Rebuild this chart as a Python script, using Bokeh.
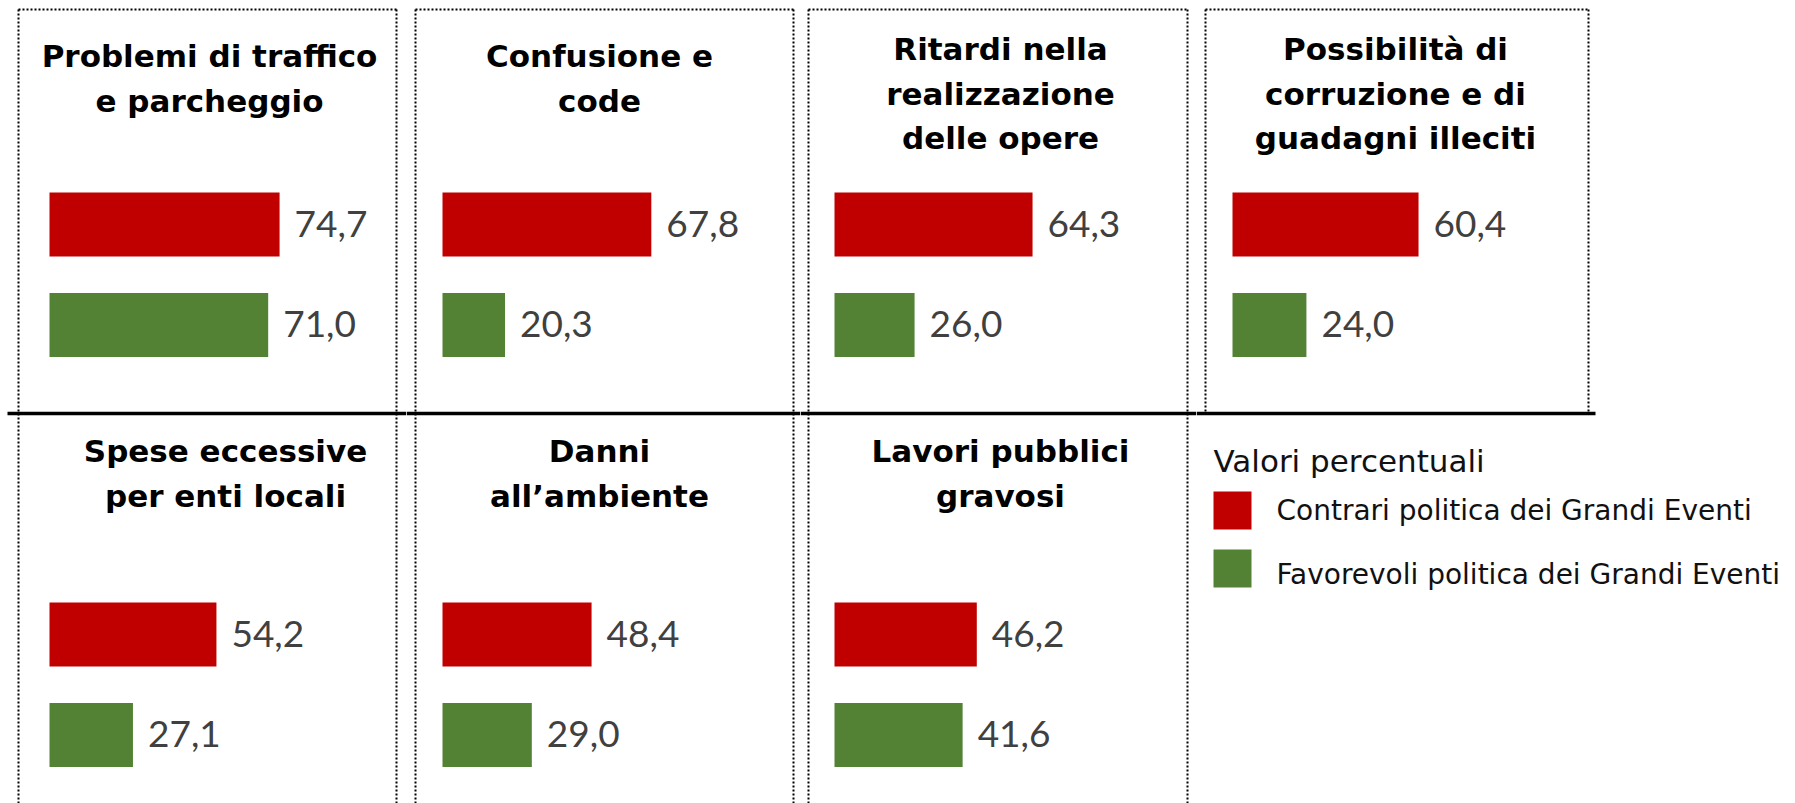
from bokeh.plotting import figure
from bokeh.layouts import row
from bokeh.models import Range1d
from bokeh.embed import file_html
from bokeh.resources import INLINE
from bokeh.core.properties import value

# ---------------- data ----------------
titles_top = [["Problemi di traffico", "e parcheggio"],
              ["Confusione e", "code"],
              ["Ritardi nella", "realizzazione", "delle opere"],
              ["Possibilità di", "corruzione e di", "guadagni illeciti"]]
titles_bottom = [["Spese eccessive", "per enti locali"],
                 ["Danni", "all’ambiente"],
                 ["Lavori pubblici", "gravosi"]]
contrari_top = [74.7, 67.8, 64.3, 60.4]
favorevoli_top = [71.0, 20.3, 26.0, 24.0]
contrari_bottom = [54.2, 48.4, 46.2]
favorevoli_bottom = [27.1, 29.0, 41.6]
legend_title = "Valori percentuali"
series_names = ["Contrari politica dei Grandi Eventi",
                "Favorevoli politica dei Grandi Eventi"]
colors = ["#C00000", "#548235"]

# ---------------- layout (page pixels) ----------------
PX = 3.08                      # pixels per percentage point
H = 803
col_edges = [0, 406, 800, 1196, 1795]
origins = [49, 442, 834, 1232]
panel_left = [18, 415, 808, 1205]
panel_right = [396, 793, 1187, 1588]
TOP_Y, LINE_Y, BOT_Y = 9, 413, 803
bar_y_top = [224, 324.5]
bar_y_bottom = [634, 734.5]
BAR_H = 64
title_x_top = [209, 599, 1000, 1395]
title_x_bottom = [225, 599, 1000]
line_start, line_end = 7, 1595
FIX = -0.4                     # baseline correction, in em

TITLE_FONT = value("DejaVu Sans")
LABEL_FONT = value("Lato")
T_SIZE, L_SIZE, G_SIZE, GT_SIZE = 31, 37, 28, 31


def fmt(v):
    return f"{v:.1f}".replace(".", ",")


figs = []
for k in range(4):
    cl, cr = col_edges[k], col_edges[k + 1]
    o = origins[k]

    def X(px):
        return (px - o) / PX

    p = figure(width=cr - cl, height=H, output_backend="svg", toolbar_location=None,
               x_range=Range1d(X(cl), X(cr)), y_range=Range1d(H, 0),
               x_axis_location=None, y_axis_location=None, min_border=0,
               min_border_left=0, min_border_right=0, min_border_top=0, min_border_bottom=0)
    p.grid.visible = False
    p.outline_line_color = None
    p.background_fill_color = "white"
    p.border_fill_color = "white"

    # dotted panel frames
    side_bottom = BOT_Y if k < 3 else LINE_Y
    pl, pr = X(panel_left[k]), X(panel_right[k])
    p.segment(x0=[pl, pr, pl], y0=[TOP_Y, TOP_Y, TOP_Y], x1=[pl, pr, pr], y1=[side_bottom, side_bottom, TOP_Y],
              line_color="black", line_width=2, line_dash="2 2")
    # solid separator
    p.segment(x0=[X(max(cl, line_start))], y0=[LINE_Y], x1=[X(min(cr, line_end))], y1=[LINE_Y],
              line_color="black", line_width=3.5)

    # ---- top panel ----
    lines = titles_top[k]
    base0 = 68 if len(lines) == 2 else 61
    p.text(x=[X(title_x_top[k])] * len(lines), y=[base0 + 44.5 * i for i in range(len(lines))], text=lines,
           y_offset=FIX * T_SIZE,
           text_font=TITLE_FONT, text_font_style="bold", text_font_size=f"{T_SIZE}px",
           text_align="center", text_baseline="alphabetic", text_color="black")
    vals = [contrari_top[k], favorevoli_top[k]]
    p.hbar(y=bar_y_top, left=0, right=vals, height=BAR_H, fill_color=colors, line_color=None)
    p.text(x=vals, y=bar_y_top, text=[fmt(v) for v in vals], x_offset=15, y_offset=14 + FIX * L_SIZE,
           text_font=LABEL_FONT, text_font_size=f"{L_SIZE}px", text_color="#404040",
           text_align="left", text_baseline="alphabetic")

    # ---- bottom panel or legend ----
    if k < 3:
        lines = titles_bottom[k]
        p.text(x=[X(title_x_bottom[k])] * len(lines), y=[463 + 44.5 * i for i in range(len(lines))], text=lines,
               y_offset=FIX * T_SIZE,
               text_font=TITLE_FONT, text_font_style="bold", text_font_size=f"{T_SIZE}px",
               text_align="center", text_baseline="alphabetic", text_color="black")
        vals = [contrari_bottom[k], favorevoli_bottom[k]]
        p.hbar(y=bar_y_bottom, left=0, right=vals, height=BAR_H, fill_color=colors, line_color=None)
        p.text(x=vals, y=bar_y_bottom, text=[fmt(v) for v in vals], x_offset=15, y_offset=14 + FIX * L_SIZE,
               text_font=LABEL_FONT, text_font_size=f"{L_SIZE}px", text_color="#404040",
               text_align="left", text_baseline="alphabetic")
    else:
        p.text(x=[X(1213)], y=[473], text=[legend_title], y_offset=FIX * GT_SIZE, text_font=TITLE_FONT,
               text_font_size=f"{GT_SIZE}px", text_color="#111111", text_align="left", text_baseline="alphabetic")
        p.scatter(x=[X(1232), X(1232)], y=[510, 568], marker="square", size=38,
                  fill_color=colors, line_color=None)
        p.text(x=[X(1276), X(1276)], y=[521, 585], text=series_names, y_offset=FIX * G_SIZE, text_font=TITLE_FONT,
               text_font_size=f"{G_SIZE}px", text_color="#111111", text_align="left", text_baseline="alphabetic")
    figs.append(p)

layout = row(*figs, spacing=0)
open("out.html", "w").write(file_html(layout, INLINE))
